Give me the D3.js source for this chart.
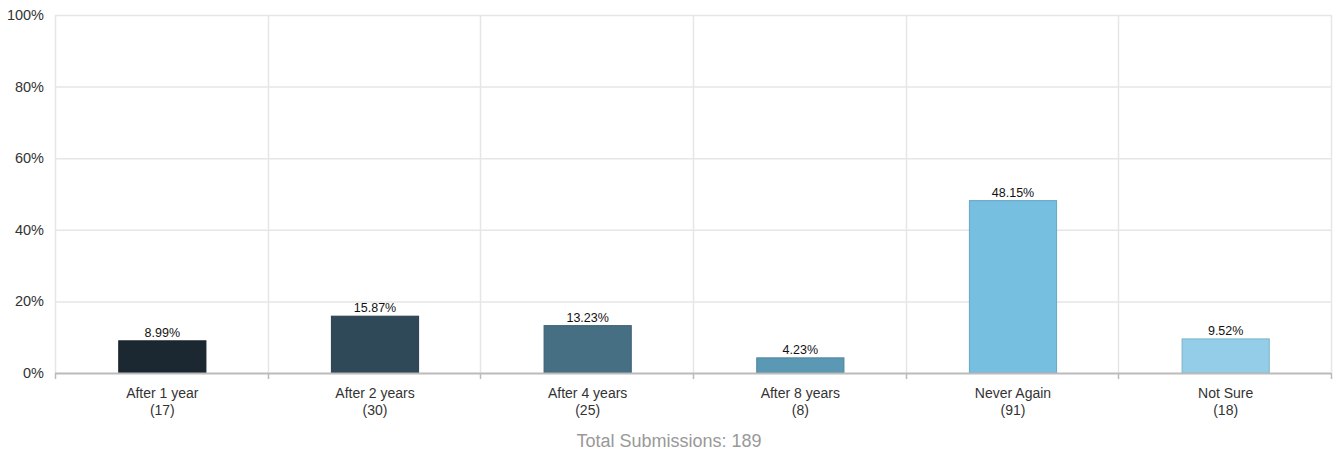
<!DOCTYPE html>
<html><head><meta charset="utf-8">
<script src="https://cdn.jsdelivr.net/npm/d3@7"></script>
<style>html,body{margin:0;padding:0;background:#fff;}svg{display:block;font-family:"Liberation Sans",Arial,sans-serif;}</style>
</head><body>
<svg id="chart" width="1338" height="456"></svg>
<script>
const categories = ["After 1 year", "After 2 years", "After 4 years", "After 8 years", "Never Again", "Not Sure"];
const counts = [17, 30, 25, 8, 91, 18];
const percents = [8.99, 15.87, 13.23, 4.23, 48.15, 9.52];
const colors = ["#1b2831", "#2f4958", "#466f84", "#5a98b4", "#76bfe0", "#93cde8"];
const yTicks = [0, 20, 40, 60, 80, 100];
const totalLabel = "Total Submissions: 189";

const svg = d3.select("#chart");
const m = {left: 55, right: 7, top: 15, bottom: 83};
const W = 1338, H = 456;
const x = d3.scaleBand().domain(categories).range([m.left, W - m.right]).paddingInner(0).paddingOuter(0);
const y = d3.scaleLinear().domain([0, 100]).range([H - m.bottom, m.top]);

svg.append("g").selectAll("line").data(yTicks.filter(d => d > 0)).join("line")
  .attr("x1", m.left).attr("x2", W - m.right)
  .attr("y1", d => y(d) + 0.5).attr("y2", d => y(d) + 0.5)
  .attr("stroke", "#e6e6e6").attr("stroke-width", 1.5);

const bounds = categories.map(c => x(c)).concat([W - m.right]);
svg.append("g").selectAll("line").data(bounds).join("line")
  .attr("x1", d => Math.round(d) + 0.5).attr("x2", d => Math.round(d) + 0.5)
  .attr("y1", m.top).attr("y2", y(0))
  .attr("stroke", "#e6e6e6").attr("stroke-width", 1.5);

svg.append("g").selectAll("text").data(yTicks).join("text")
  .attr("x", 44).attr("y", d => y(d) + 5)
  .attr("text-anchor", "end").attr("font-size", 14.5).attr("fill", "#333")
  .text(d => d + "%");

const bw = x.bandwidth() * 0.41;
svg.append("g").selectAll("rect").data(categories).join("rect")
  .attr("x", (c) => x(c) + (x.bandwidth() - bw) / 2 + 1)
  .attr("y", (c, i) => y(percents[i]))
  .attr("width", bw)
  .attr("height", (c, i) => y(0) - y(percents[i]))
  .attr("fill", (c, i) => colors[i])
  .attr("stroke", (c, i) => d3.color(colors[i]).darker(0.4))
  .attr("stroke-width", 1);

svg.append("g").selectAll("text").data(categories).join("text")
  .attr("x", c => x(c) + x.bandwidth() / 2 + 1)
  .attr("y", (c, i) => y(percents[i]) - 4)
  .attr("text-anchor", "middle").attr("font-size", 12.5).attr("fill", "#111")
  .text((c, i) => percents[i].toFixed(2) + "%");

svg.append("line").attr("x1", m.left).attr("x2", W - m.right)
  .attr("y1", y(0) + 0.5).attr("y2", y(0) + 0.5)
  .attr("stroke", "#bbb").attr("stroke-width", 2);
svg.append("g").selectAll("line").data(bounds).join("line")
  .attr("x1", d => Math.round(d) + 0.5).attr("x2", d => Math.round(d) + 0.5)
  .attr("y1", y(0)).attr("y2", y(0) + 6)
  .attr("stroke", "#bbb").attr("stroke-width", 1.5);

const cl = svg.append("g").selectAll("text").data(categories).join("text")
  .attr("text-anchor", "middle").attr("font-size", 14).attr("fill", "#333");
cl.append("tspan").attr("x", c => x(c) + x.bandwidth() / 2 + 1).attr("y", 398).text(c => c);
cl.append("tspan").attr("x", c => x(c) + x.bandwidth() / 2 + 1).attr("y", 415).text((c, i) => "(" + counts[i] + ")");

svg.append("text").attr("x", 669).attr("y", 447)
  .attr("text-anchor", "middle").attr("font-size", 18).attr("fill", "#999")
  .text(totalLabel);
</script>
</body></html>
